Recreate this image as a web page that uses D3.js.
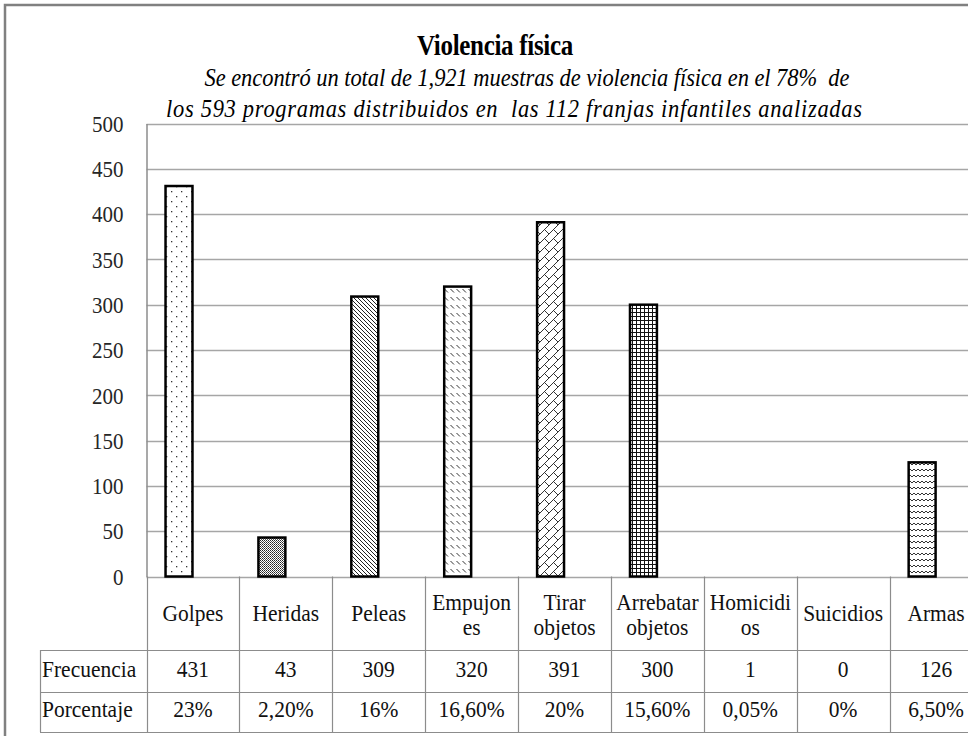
<!DOCTYPE html>
<html>
<head>
<meta charset="utf-8">
<script src="https://cdn.jsdelivr.net/npm/d3@7"></script>
<style>
    body { margin: 0; background: #fff; overflow: hidden; }
    svg { display: block; }
    text { font-family: "Liberation Serif", "Times New Roman", serif; }
    .title { font-weight: bold; font-size: 25px; letter-spacing: -0.3px; }
    .subtitle { font-style: italic; font-size: 22.5px; white-space: pre; }
    .tick text { font-size: 21px; fill: #262626; }
    .cell { font-size: 21.5px; fill: #111; }
</style>
</head>
<body>
<div id="chart"></div>
<script>
// data
const categories = ["Golpes", "Heridas", "Peleas", "Empujones", "Tirar objetos",
                    "Arrebatar objetos", "Homicidios", "Suicidios", "Armas"];
const categoryLines = [["Golpes"], ["Heridas"], ["Peleas"], ["Empujon", "es"], ["Tirar", "objetos"],
                       ["Arrebatar", "objetos"], ["Homicidi", "os"], ["Suicidios"], ["Armas"]];
const frecuencia = [431, 43, 309, 320, 391, 300, 1, 0, 126];
const porcentaje = ["23%", "2,20%", "16%", "16,60%", "20%", "15,60%", "0,05%", "0%", "6,50%"];
const rowLabels = ["Frecuencia", "Porcentaje"];
const yTicks = [0, 50, 100, 150, 200, 250, 300, 350, 400, 450, 500];
const titleText = "Violencia física";
const subtitleLines = ["Se encontró un total de 1,921 muestras de violencia física en el 78%  de",
                       "los 593 programas distribuidos en  las 112 franjas infantiles analizadas"];

const width = 968,
      height = 736;
const plotLeft = 146.5, plotRight = 982.5, plotTop = 123.5, plotBottom = 576.5;
const catRowBottom = 650, freqRowBottom = 692, pctRowBottom = 732, labelColLeft = 40;
const gridColor = "#a6a6a6", lineColor = "#8c8c8c";
const textStretch = 1.12;
// where each subtitle line sits in the picture: [centre x, length]
const subtitleBox = [[527, 645], [514, 696]];

const svg = d3.select("#chart").append("svg")
    .attr("width", width)
    .attr("height", height);

// text in the picture is drawn a bit taller than the font, stretch it around its baseline
const stretch = function(sel, k) {
    sel.attr("transform", function() {
        const ty = +d3.select(this).attr("y") || 0;
        return "translate(0," + (ty * (1 - k)) + ") scale(1," + k + ")";
    });
};

//Patterns for the bars
const defs = svg.append("defs");
const makePattern = function(id, w, h) {
    const p = defs.append("pattern")
        .attr("id", id)
        .attr("patternUnits", "userSpaceOnUse")
        .attr("width", w)
        .attr("height", h);
    p.append("rect").attr("width", w).attr("height", h).attr("fill", "#fff");
    return p;
};

// sparse dots
let p = makePattern("pDots", 10, 10);
p.append("rect").attr("x", 1).attr("y", 1).attr("width", 1.3).attr("height", 1.3).attr("fill", "#333");
p.append("rect").attr("x", 6).attr("y", 6).attr("width", 1.3).attr("height", 1.3).attr("fill", "#333");

// dense dark dots
p = makePattern("pDark", 2, 2);
p.append("rect").attr("width", 1).attr("height", 1).attr("fill", "#222");
p.append("rect").attr("x", 1).attr("y", 1).attr("width", 1).attr("height", 1).attr("fill", "#555");

// dense diagonal lines
p = makePattern("pDiag", 4, 4);
p.append("path").attr("d", "M-1,-1L5,5M-1,3L1,5M3,-1L5,1")
    .attr("stroke", "#222").attr("stroke-width", 1);

// small dashed diagonals
p = makePattern("pDash", 6, 8);
p.append("path").attr("d", "M0.5,1L4,4.5").attr("stroke", "#333").attr("stroke-width", 1);

// diagonal brick
p = makePattern("pBrick", 9, 9);
p.append("path").attr("d", "M-1,10L10,-1M4.5,4.5L9,9M0,0L-1,-1")
    .attr("stroke", "#333").attr("stroke-width", 1).attr("fill", "none");

// small grid
p = makePattern("pGrid", 4, 4);
p.append("path").attr("d", "M0,0.5H4M0.5,0V4").attr("stroke", "#111").attr("stroke-width", 1);

// waves
p = makePattern("pWave", 8, 6);
p.append("path").attr("d", "M0,3L2,1L4,3L6,1L8,3")
    .attr("stroke", "#333").attr("stroke-width", 1).attr("fill", "none");

const patterns = ["pDots", "pDark", "pDiag", "pDash", "pBrick", "pGrid", "pDash", "pDash", "pWave"];

//Set up scales
const x = d3.scaleBand()
    .domain(categories)
    .range([plotLeft, plotRight]);

const y = d3.scaleLinear()
    .domain([0, 500])
    .range([plotBottom, plotTop]);

//Outer frame
svg.append("path")
    .attr("d", "M5," + height + "V5H" + width)
    .attr("fill", "none")
    .attr("stroke", "#808080")
    .attr("stroke-width", 2.5);

//Gridlines
svg.append("g")
    .selectAll("line")
    .data(yTicks)
    .enter()
    .append("line")
    .attr("x1", plotLeft)
    .attr("x2", plotRight)
    .attr("y1", d => Math.round(y(d)) + 0.5)
    .attr("y2", d => Math.round(y(d)) + 0.5)
    .attr("stroke", gridColor)
    .attr("stroke-width", 1.5);

//Y axis
const yAxis = svg.append("g")
    .attr("transform", "translate(" + plotLeft + ",0)")
    .call(d3.axisLeft(y).tickValues(yTicks).tickSize(0).tickPadding(23));
yAxis.attr("font-family", null).attr("font-size", null);
yAxis.select(".domain")
    .attr("stroke", lineColor)
    .attr("stroke-width", 1.5);
yAxis.selectAll(".tick text")
    .attr("dy", "0.33em")
    .call(stretch, textStretch);

//Title
svg.append("text")
    .attr("class", "title")
    .attr("x", 495)
    .attr("y", 55)
    .attr("text-anchor", "middle")
    .text(titleText)
    .call(stretch, 1.18);

svg.selectAll(".subtitle")
    .data(subtitleLines)
    .enter()
    .append("text")
    .attr("class", "subtitle")
    .attr("x", (d, i) => subtitleBox[i][0])
    .attr("y", (d, i) => 86 + i * 31)
    .attr("text-anchor", "middle")
    .attr("textLength", (d, i) => subtitleBox[i][1])
    .attr("lengthAdjust", "spacing")
    .text(d => d)
    .call(stretch, 1.1);

//Bars (a bar under 2px tall disappears under the axis line in the picture)
const barOffset = x.bandwidth() * 0.205,
      barWidth = x.bandwidth() * 0.29;

svg.append("g")
    .selectAll("rect")
    .data(categories)
    .enter()
    .append("rect")
    .filter((d, i) => plotBottom - y(frecuencia[i]) >= 2)
    .attr("x", d => x(d) + barOffset)
    .attr("y", d => y(frecuencia[categories.indexOf(d)]))
    .attr("width", barWidth)
    .attr("height", d => plotBottom - y(frecuencia[categories.indexOf(d)]))
    .attr("fill", d => "url(#" + patterns[categories.indexOf(d)] + ")")
    .attr("stroke", "#000")
    .attr("stroke-width", 2.5);

//Data table
const table = svg.append("g").attr("stroke", lineColor).attr("stroke-width", 1.2);

// horizontal rules
[catRowBottom, freqRowBottom, pctRowBottom].forEach(ry => {
    table.append("line")
        .attr("x1", labelColLeft).attr("x2", plotRight)
        .attr("y1", ry + 0.5).attr("y2", ry + 0.5);
});

// vertical rules
table.selectAll(".vline")
    .data(categories.concat(["end"]))
    .enter()
    .append("line")
    .attr("class", "vline")
    .attr("x1", (d, i) => i < categories.length ? Math.round(x(d)) + 0.5 : plotRight)
    .attr("x2", (d, i) => i < categories.length ? Math.round(x(d)) + 0.5 : plotRight)
    .attr("y1", plotBottom)
    .attr("y2", pctRowBottom);

table.append("line")
    .attr("x1", labelColLeft + 0.5).attr("x2", labelColLeft + 0.5)
    .attr("y1", catRowBottom).attr("y2", pctRowBottom);

// category names, one text per line
const catLineData = [];
categories.forEach((c, i) => {
    categoryLines[i].forEach((t, j, arr) => {
        catLineData.push({cat: c, t: t, j: j, n: arr.length});
    });
});

svg.append("g")
    .selectAll("text")
    .data(catLineData)
    .enter()
    .append("text")
    .attr("class", "cell")
    .attr("text-anchor", "middle")
    .attr("x", d => x(d.cat) + x.bandwidth() / 2)
    .attr("y", d => d.n === 1 ? 621 : 610 + d.j * 25)
    .text(d => d.t)
    .call(stretch, textStretch);

// row labels
svg.append("g")
    .selectAll("text")
    .data(rowLabels)
    .enter()
    .append("text")
    .attr("class", "cell")
    .attr("x", labelColLeft + 2)
    .attr("y", (d, i) => i === 0 ? 677 : 717)
    .text(d => d)
    .call(stretch, textStretch);

// values
const rows = [frecuencia, porcentaje];
rows.forEach((row, ri) => {
    svg.append("g")
        .selectAll("text")
        .data(categories)
        .enter()
        .append("text")
        .attr("class", "cell")
        .attr("text-anchor", "middle")
        .attr("x", d => x(d) + x.bandwidth() / 2)
        .attr("y", ri === 0 ? 677 : 717)
        .text((d, i) => row[i])
        .call(stretch, textStretch);
});
</script>
</body>
</html>
